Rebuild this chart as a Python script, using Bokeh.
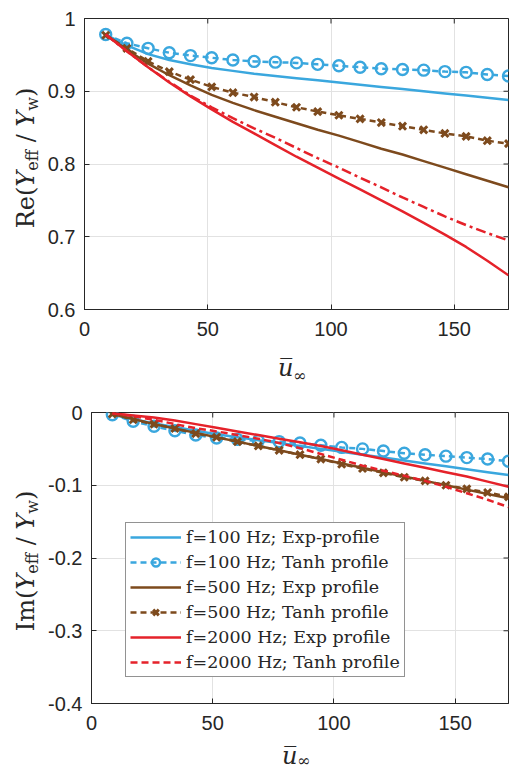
import math
from bokeh.plotting import figure
from bokeh.models import Range1d, FixedTicker, Legend, LegendItem, Div
from bokeh.layouts import column, row
from bokeh.embed import file_html
from bokeh.resources import INLINE

# ---------------- data ----------------
u = [8.6, 17.2, 25.8, 34.4, 43.0, 51.6, 60.2, 68.8, 77.4, 86.0,
     94.6, 103.2, 111.8, 120.4, 129.0, 137.6, 146.2, 154.8, 163.4, 172.0]

re_exp_100 = [0.978, 0.963, 0.951, 0.943, 0.937, 0.932, 0.928, 0.924, 0.921, 0.918,
              0.915, 0.912, 0.909, 0.906, 0.903, 0.900, 0.897, 0.894, 0.891, 0.888]
re_tanh_100 = [0.978, 0.966, 0.959, 0.953, 0.949, 0.946, 0.943, 0.941, 0.940, 0.939,
               0.937, 0.935, 0.933, 0.931, 0.930, 0.929, 0.927, 0.926, 0.923, 0.921]
re_exp_500 = [0.978, 0.957, 0.938, 0.922, 0.908, 0.895, 0.884, 0.874, 0.865, 0.856,
              0.847, 0.839, 0.830, 0.821, 0.813, 0.804, 0.795, 0.786, 0.777, 0.768]
re_tanh_500 = [0.977, 0.959, 0.941, 0.927, 0.916, 0.906, 0.898, 0.892, 0.885, 0.878,
               0.872, 0.867, 0.862, 0.857, 0.852, 0.847, 0.842, 0.838, 0.832, 0.828]
re_exp_2000 = [0.978, 0.955, 0.933, 0.912, 0.893, 0.875, 0.858, 0.842, 0.826, 0.810,
               0.795, 0.780, 0.765, 0.750, 0.735, 0.719, 0.703, 0.686, 0.667, 0.647]
re_tanh_2000 = [0.978, 0.955, 0.933, 0.913, 0.894, 0.878, 0.863, 0.849, 0.836, 0.822,
                0.808, 0.795, 0.781, 0.768, 0.754, 0.741, 0.728, 0.716, 0.705, 0.695]

im_exp_100 = [-0.003, -0.009, -0.015, -0.020, -0.025, -0.030, -0.034, -0.038, -0.042, -0.046,
              -0.050, -0.054, -0.058, -0.062, -0.066, -0.070, -0.074, -0.078, -0.082, -0.086]
im_tanh_100 = [-0.003, -0.012, -0.019, -0.025, -0.031, -0.035, -0.037, -0.039, -0.040, -0.042,
               -0.045, -0.048, -0.050, -0.053, -0.056, -0.058, -0.060, -0.062, -0.064, -0.067]
im_exp_500 = [-0.002, -0.009, -0.016, -0.022, -0.028, -0.034, -0.040, -0.046, -0.052, -0.058,
              -0.064, -0.070, -0.076, -0.082, -0.088, -0.094, -0.100, -0.106, -0.112, -0.118]
im_tanh_500 = [-0.002, -0.010, -0.016, -0.022, -0.029, -0.034, -0.040, -0.046, -0.052, -0.058,
               -0.064, -0.071, -0.077, -0.083, -0.089, -0.094, -0.100, -0.105, -0.110, -0.116]
im_exp_2000 = [-0.001, -0.004, -0.007, -0.011, -0.016, -0.021, -0.026, -0.031, -0.036, -0.041,
               -0.046, -0.052, -0.058, -0.064, -0.070, -0.076, -0.082, -0.088, -0.095, -0.102]
im_tanh_2000 = [-0.001, -0.005, -0.010, -0.016, -0.0215, -0.026, -0.031, -0.036, -0.042, -0.049,
                -0.057, -0.065, -0.073, -0.080, -0.087, -0.094, -0.102, -0.111, -0.120, -0.130]

x_ticks = [0, 50, 100, 150]
re_ticks = [0.6, 0.7, 0.8, 0.9, 1.0]
re_tick_labels = ["0.6", "0.7", "0.8", "0.9", "1"]
im_ticks = [-0.4, -0.3, -0.2, -0.1, 0.0]
im_tick_labels = ["-0.4", "-0.3", "-0.2", "-0.1", "0"]

legend_labels = ["f=100 Hz; Exp-profile", "f=100 Hz; Tanh profile",
                 "f=500 Hz; Exp profile", "f=500 Hz; Tanh profile",
                 "f=2000 Hz; Exp profile", "f=2000 Hz; Tanh profile"]

# ---------------- style ----------------
BLUE = "#3aa7de"
BROWN = "#7d4a1d"
RED = "#e5222a"
AX = "#262626"
GRID = "#e2e2e2"
SERIF = "DejaVu Serif"
SANS = "Liberation Sans"
X_MAX = 172


def make_fig(yr, yticks, ylabels, left, frame_w, top, bottom):
    p = figure(frame_width=frame_w, frame_height=291,
               min_border_left=left, min_border_right=1,
               min_border_top=top, min_border_bottom=bottom,
               x_range=Range1d(0, X_MAX), y_range=Range1d(*yr),
               output_backend="svg", toolbar_location=None,
               background_fill_color="white", border_fill_color="white")
    p.outline_line_color = AX
    p.outline_line_width = 1
    p.xaxis.ticker = FixedTicker(ticks=x_ticks)
    p.yaxis.ticker = FixedTicker(ticks=yticks)
    p.yaxis.major_label_overrides = {t: l for t, l in zip(yticks, ylabels)}
    for ax in (p.xaxis[0], p.yaxis[0]):
        ax.axis_line_color = AX
        ax.major_tick_in = 5
        ax.major_tick_out = 0
        ax.major_tick_line_color = AX
        ax.minor_tick_line_color = None
        ax.major_label_text_font = SANS
        ax.major_label_text_font_size = "20px"
        ax.major_label_text_color = AX
    p.xaxis.major_label_standoff = 12
    p.yaxis.major_label_standoff = 9
    p.xgrid.ticker = FixedTicker(ticks=x_ticks)
    p.ygrid.ticker = FixedTicker(ticks=yticks)
    p.grid.grid_line_color = GRID
    p.grid.grid_line_width = 1
    # inner ticks on the top and right edges of the box (half of each dash is clipped)
    p.scatter(x_ticks, [yr[1]] * len(x_ticks), marker="dash", size=10, angle=math.pi / 2,
              line_color=AX, line_width=1)
    p.scatter([X_MAX] * len(yticks), yticks, marker="dash", size=10,
              line_color=AX, line_width=1)
    return p


def add_series(p, series, red_dash):
    rs = []
    (e1, t1, e5, t5, e2, t2) = series
    rs.append([p.line(u, e1, line_color=BLUE, line_width=2.5)])
    rs.append([p.line(u, t1, line_color=BLUE, line_width=2.5, line_dash="6 4"),
               p.scatter(u, t1, marker="circle", size=11, fill_color=None,
                         line_color=BLUE, line_width=2.4)])
    rs.append([p.line(u, e5, line_color=BROWN, line_width=2.5)])
    rs.append([p.line(u, t5, line_color=BROWN, line_width=2.5, line_dash="6 4"),
               p.scatter(u, t5, marker="x", size=10, line_color=BROWN, line_width=3)])
    rs.append([p.line(u, e2, line_color=RED, line_width=2.5)])
    rs.append([p.line(u, t2, line_color=RED, line_width=2.5, line_dash=red_dash)])
    return rs


def ylabel_div(first, w, h, cx, cy):
    sub = "font-size:16px;position:relative;top:4px;font-style:normal"
    txt = (f"{first}(<i>Y</i><span style='{sub}'>eff</span> / "
           f"<i>Y</i><span style='{sub}'>w</span>)")
    html = (f"<div style='position:relative;width:{w}px;height:{h}px;overflow:visible'>"
            f"<div style='position:absolute;left:{cx}px;top:{cy}px;"
            f"transform:translate(-50%,-50%) rotate(-90deg);white-space:nowrap;"
            f"font-family:\"{SERIF}\";font-size:24px;line-height:24px;color:{AX}'>"
            f"{txt}</div></div>")
    return Div(text=html, width=w, height=h, margin=(0, 0, 0, 0),
               styles={"overflow": "visible"})


def xlabel_div(w, h, left, base_u, base_inf):
    top_u = base_u - 20.3
    top_i = base_inf - 13.5
    html = (f"<div style='position:relative;width:{w}px;height:{h}px;overflow:visible;"
            f"font-family:\"{SERIF}\";color:{AX}'>"
            f"<span style='position:absolute;left:{left}px;top:{top_u}px;font-size:24px;"
            f"line-height:24px;font-style:italic;white-space:nowrap'>u&#x305;</span>"
            f"<span style='position:absolute;left:{left + 15}px;top:{top_i}px;font-size:16px;"
            f"line-height:16px;white-space:nowrap'>&#x221E;</span></div>")
    return Div(text=html, width=w, height=h, margin=(0, 0, 0, 0),
               styles={"overflow": "visible"})


# ---------------- top figure ----------------
p1 = make_fig((0.6, 1.0), re_ticks, re_tick_labels, left=44, frame_w=424, top=18, bottom=38)
add_series(p1, (re_exp_100, re_tanh_100, re_exp_500, re_tanh_500, re_exp_2000, re_tanh_2000),
           red_dash="10 4 3 4")

# ---------------- bottom figure ----------------
p2 = make_fig((-0.4, 0.0), im_ticks, im_tick_labels, left=51, frame_w=417, top=29, bottom=36)
rs = add_series(p2, (im_exp_100, im_tanh_100, im_exp_500, im_tanh_500, im_exp_2000, im_tanh_2000),
                red_dash="7 4")

legend = Legend(items=[LegendItem(label=l, renderers=r) for l, r in zip(legend_labels, rs)],
                location=(34, 26), orientation="vertical",
                label_text_font=SERIF, label_text_font_size="17.5px", label_text_color=AX,
                label_height=20, glyph_height=20, glyph_width=51, label_standoff=5,
                spacing=5, padding=4, margin=0,
                border_line_color=AX, border_line_width=1,
                background_fill_color="white", background_fill_alpha=1.0)
p2.add_layout(legend)

dy1 = ylabel_div("Re", 40, 347, 27, 158)
dy2 = ylabel_div("Im", 40, 356, 27, 178)
dx1 = xlabel_div(509, 36, 278, 29, 34)
dx2 = xlabel_div(509, 28, 282, 25, 27)

layout = column(row(dy1, p1, spacing=0), dx1, row(dy2, p2, spacing=0), dx2, spacing=0)
open("out.html", "w").write(file_html(layout, INLINE))
